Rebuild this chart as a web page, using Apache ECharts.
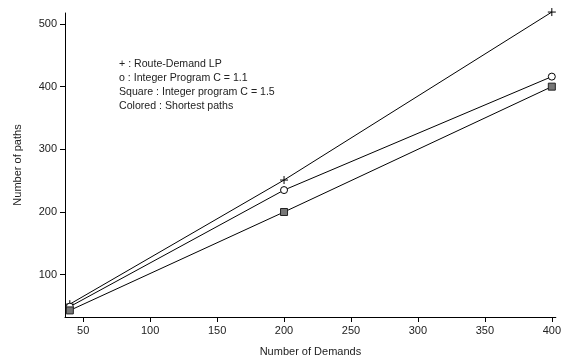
<!DOCTYPE html>
<html>
<head>
<meta charset="utf-8">
<script src="https://cdn.jsdelivr.net/npm/echarts@6/dist/echarts.min.js"></script>
<style>
  html, body { margin: 0; padding: 0; background: #fff; }
  #chart { width: 564px; height: 362px; }
</style>
</head>
<body>
<div id="chart"></div>
<script>
// values
const demands = [40, 200, 400]
const routeDemandLP = [53, 251, 519]
const intProg11 = [49, 235, 416]
const intProg15 = [43, 200, 400]
const xTicks = [50, 100, 150, 200, 250, 300, 350, 400]
const yTicks = [100, 200, 300, 400, 500]
const legendLines = [
  '+ : Route-Demand LP',
  'o : Integer Program C = 1.1',
  'Square : Integer program C = 1.5',
  'Colored : Shortest paths'
]

const font = 'Liberation Sans, Arial, sans-serif'
const textColor = '#222'
const pair = vals => demands.map((d, i) => [d, vals[i]])
const plus = 'path://M5,0 L5,10 M0,5 L10,5'

const chart = echarts.init(document.getElementById('chart'))

function lineSeries(name, vals, symbol, size, itemStyle) {
  return {
    name,
    type: 'line',
    data: pair(vals),
    symbol,
    symbolSize: size,
    showAllSymbol: true,
    clip: false,
    lineStyle: { color: '#000', width: 1 },
    itemStyle,
    emphasis: { disabled: true },
    animation: false
  }
}

chart.setOption({
  animation: false,
  grid: { left: 65, right: 7, top: 13, bottom: 40 },
  xAxis: {
    type: 'value',
    min: 36.4,
    max: 403,
    name: 'Number of Demands',
    nameLocation: 'middle',
    nameGap: 29,
    nameTextStyle: { fontFamily: font, fontSize: 11, color: textColor },
    splitLine: { show: false },
    axisLine: { lineStyle: { color: '#000', width: 1 } },
    axisTick: { show: true, length: 5, customValues: xTicks, lineStyle: { color: '#000' } },
    axisLabel: { customValues: xTicks, fontFamily: font, fontSize: 11, color: textColor, margin: 8 }
  },
  yAxis: {
    type: 'value',
    min: 32.5,
    max: 517.5,
    name: 'Number of paths',
    nameLocation: 'middle',
    nameGap: 42,
    nameRotate: 90,
    nameTextStyle: { fontFamily: font, fontSize: 11, color: textColor },
    splitLine: { show: false },
    axisLine: { show: true, lineStyle: { color: '#000', width: 1 } },
    axisTick: { show: true, length: 5, customValues: yTicks, lineStyle: { color: '#000' } },
    axisLabel: { customValues: yTicks, fontFamily: font, fontSize: 11, color: textColor, margin: 8 }
  },
  graphic: legendLines.map((t, i) => ({
    type: 'text',
    left: 119,
    top: 59 + i * 13.7,
    style: { text: t, font: '10.6px ' + font, fill: textColor }
  })),
  series: [
    lineSeries('Route-Demand LP', routeDemandLP, plus, 8,
      { color: '#000', borderColor: '#000', borderWidth: 1 }),
    lineSeries('Integer Program C = 1.1', intProg11, 'circle', 7,
      { color: '#fff', borderColor: '#000', borderWidth: 1 }),
    lineSeries('Integer program C = 1.5', intProg15, 'rect', 7,
      { color: '#777', borderColor: '#222', borderWidth: 1 })
  ]
})
</script>
</body>
</html>
